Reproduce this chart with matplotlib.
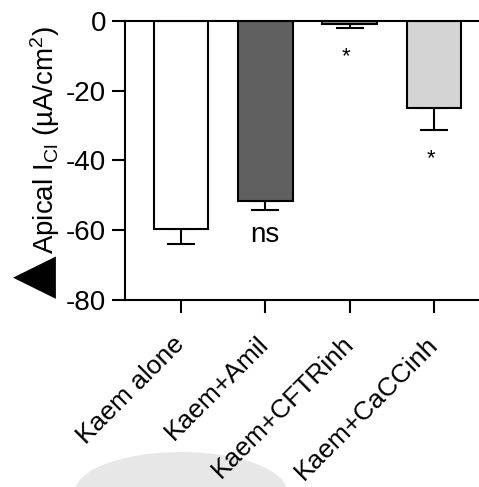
import matplotlib
matplotlib.use("Agg")
import matplotlib.pyplot as plt
from matplotlib.patches import Ellipse

plt.rcParams["font.family"] = ["Liberation Sans", "DejaVu Sans"]
plt.rcParams["mathtext.fontset"] = "custom"
plt.rcParams["mathtext.rm"] = "Liberation Sans"
plt.rcParams["mathtext.it"] = "Liberation Sans"
plt.rcParams["axes.unicode_minus"] = False

# Data
categories = ["Kaem alone", "Kaem+Amil", "Kaem+CFTRinh", "Kaem+CaCCinh"]
means = [-59.8, -51.6, -1.0, -25.1]
sems = [4.1, 2.6, 1.0, 6.1]
bar_colors = ["#ffffff", "#606060", "#969696", "#d4d4d4"]
annotations = ["", "ns", "*", "*"]
yticks = [0, -20, -40, -60, -80]

FS = 20
W, H, DPI = 479, 487, 100
fig = plt.figure(figsize=(W / DPI, H / DPI), dpi=DPI)

# soft grey blob near the bottom of the canvas (display coords, origin bottom-left)
fig.patches.append(Ellipse((181, H - 492), 212, 80, transform=None,
                           facecolor="#e7e7e7", edgecolor="none", zorder=-5))

ax = fig.add_axes([125 / W, 1 - 300 / H, 1.01 - 125 / W, (300 - 20.7) / H])
ax.patch.set_alpha(0)

x = list(range(len(categories)))
ax.bar(x, means, width=0.65, color=bar_colors, edgecolor="black",
       linewidth=1.5, zorder=2)
# one-sided (downward) error bars
ax.errorbar(x, means, yerr=[sems, [0] * len(sems)], fmt="none",
            ecolor="black", elinewidth=1.5, capsize=10, capthick=1.5, zorder=1)

# significance marks below each error bar
for xi, m, s, a in zip(x, means, sems, annotations):
    if not a:
        continue
    if a == "ns":
        ax.text(xi, m - s - 7.2, a, ha="center", va="center", fontsize=FS)
    else:
        ax.text(xi - 0.04, m - s - 8.2, a, ha="center", va="center",
                fontsize=16)

ax.set_ylim(-80, 0)
ax.set_xlim(-0.663, 3.59)
ax.set_yticks(yticks)
ax.set_yticklabels([str(t) for t in yticks])
ax.set_xticks(x)
ax.set_xticklabels(categories, rotation=45, ha="right", va="center",
                   rotation_mode="anchor", fontsize=19)
ax.tick_params(axis="both", direction="out", length=9.5, width=1.5,
               labelsize=FS, pad=4)
ax.tick_params(axis="x", pad=19.5, labelsize=19)

for side in ["left", "top", "bottom"]:
    ax.spines[side].set_linewidth(1.5)
ax.spines["right"].set_visible(False)

# y-axis title with leading triangle symbol
fig.text(54 / W, 1 - 254 / H,
         r"Apical $\mathregular{I_{Cl}}$ (µA/cm$\mathregular{^{2}}$)",
         rotation=90, rotation_mode="anchor", ha="left", va="baseline",
         fontsize=FS)
fig.text(35 / W, 1 - 277 / H, "▲", rotation=90, ha="center", va="center",
         fontsize=40, family=["DejaVu Sans"])

fig.savefig("out.png", dpi=DPI)
